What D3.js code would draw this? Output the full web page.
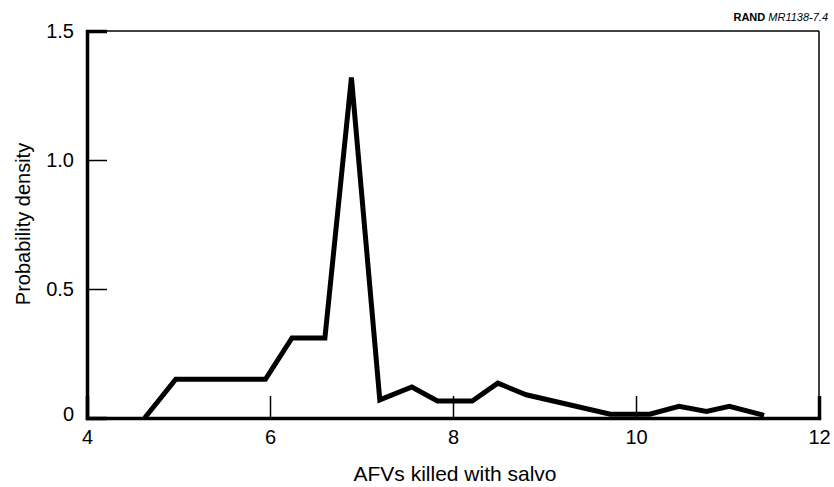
<!DOCTYPE html>
<html>
<head>
<meta charset="utf-8">
<script src="https://cdn.jsdelivr.net/npm/d3@7"></script>
<style>
  body { margin: 0; background: #fff; }
  text { font-family: "Liberation Sans", Arial, sans-serif; fill: #000; }
</style>
</head>
<body>
<div id="canvas"></div>
<script>
// values
const afvs    = [4.63, 4.97, 5.95, 6.24, 6.6, 6.89, 7.2, 7.55, 7.83, 8.21, 8.49, 8.8, 9.72, 10.15, 10.47, 10.77, 11.02, 11.4];
const density = [0, 0.15, 0.15, 0.31, 0.31, 1.32, 0.07, 0.12, 0.066, 0.066, 0.135, 0.09, 0.015, 0.015, 0.045, 0.025, 0.045, 0.01];
const xTicks = [4, 6, 8, 10, 12];
const yTicks = [0, 0.5, 1.0, 1.5];

const width = 834;
const height = 487;
const margin = { top: 31, left: 87, bottom: 69, right: 15 };
const iwidth = width - margin.left - margin.right;
const iheight = height - margin.top - margin.bottom;

const svg = d3.select("#canvas").append("svg")
  .attr("width", width)
  .attr("height", height);

const g = svg.append("g").attr("transform", `translate(${margin.left},${margin.top})`);

const x = d3.scaleLinear().domain([4, 12]).range([0, iwidth]);
const y = d3.scaleLinear().domain([0, 1.5]).range([iheight, 0]);

// thin frame top / right
g.append("line").attr("x1", 0).attr("x2", iwidth).attr("y1", 0).attr("y2", 0)
  .attr("stroke", "#000").attr("stroke-width", 1.5);
g.append("line").attr("x1", iwidth).attr("x2", iwidth).attr("y1", 0).attr("y2", iheight)
  .attr("stroke", "#000").attr("stroke-width", 1.5);

// axes, ticks pointing inward
const xAxis = g.append("g")
  .attr("transform", `translate(0,${iheight})`)
  .call(d3.axisBottom(x).tickValues(xTicks).tickSize(-22).tickPadding(12).tickFormat(d3.format("d")));
const yAxis = g.append("g")
  .call(d3.axisLeft(y).tickValues(yTicks).tickSize(-20).tickPadding(13)
    .tickFormat(d => d === 0 ? "0" : d3.format(".1f")(d)));

[xAxis, yAxis].forEach(a => {
  a.select(".domain").attr("stroke", "#000").attr("stroke-width", 3.5);
  a.selectAll(".tick line").attr("stroke", "#000").attr("stroke-width", 1.5);
  a.selectAll(".tick text").style("font-size", "20px");
});
xAxis.selectAll(".tick line").filter(d => d === 4 || d === 12).remove();
yAxis.selectAll(".tick line").filter(d => d === 0 || d === 1.5).remove();
yAxis.selectAll(".tick text").filter(d => d === 0).attr("dy", "0.1em");

// density line
const line = d3.line().x((d, i) => x(afvs[i])).y(d => y(d));
g.append("path")
  .datum(density)
  .attr("fill", "none")
  .attr("stroke", "#000")
  .attr("stroke-width", 5)
  .attr("stroke-linejoin", "miter")
  .attr("d", line);

// titles
svg.append("text")
  .attr("x", 455)
  .attr("y", 481)
  .attr("text-anchor", "middle")
  .style("font-size", "21px")
  .text("AFVs killed with salvo");

svg.append("text")
  .attr("transform", "translate(30,224) rotate(-90)")
  .attr("text-anchor", "middle")
  .style("font-size", "20px")
  .text("Probability density");

const tag = svg.append("text")
  .attr("x", 828)
  .attr("y", 21)
  .attr("text-anchor", "end")
  .style("font-size", "11px");
tag.append("tspan").style("font-weight", "bold").text("RAND ");
tag.append("tspan").style("font-style", "italic").text("MR1138-7.4");
</script>
</body>
</html>
